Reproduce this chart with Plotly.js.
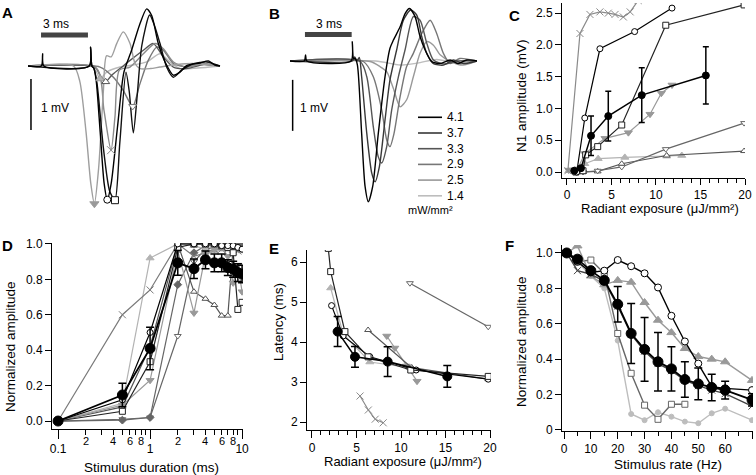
<!DOCTYPE html>
<html><head><meta charset="utf-8">
<script src="https://cdn.plot.ly/plotly-3.0.1.min.js"></script>
<style>html,body{margin:0;padding:0;background:#fff}#chart{width:756px;height:475px}</style>
</head><body><div id="chart"></div>
<script>
const FONT = 'Liberation Sans, Arial, Helvetica, sans-serif';

// ---------- Panel A : single-sweep traces (ms, mV) ----------
const aCircleT = [0, 0.85, 0.93, 1.01, 3.9, 3.99, 4.07, 4.2, 4.35, 4.6, 4.85, 5.05, 5.3, 5.7, 6.11, 6.6, 7.1, 7.56, 7.88, 8.3, 8.73, 9.26, 9.68, 10.1, 10.96, 11.49, 11.9, 12.23];
const aCircleV = [0, 0, 0.24, 0, 0, 0.37, 0, -0.05, -0.3, -1.3, -2.3, -2.62, -2.3, -1.2, -0.12, 0.31, 0.8, 1.12, 0.99, 0.44, 0.08, -0.18, -0.12, 0.01, 0.06, 0.1, 0.02, 0];
const aSquareT = [0, 3.9, 3.99, 4.07, 4.2, 4.4, 4.8, 5.2, 5.54, 5.85, 6.24, 6.45, 6.71, 6.95, 7.25, 7.75, 8.05, 8.41, 8.83, 9.26, 9.79, 10.5, 11.4, 12.23];
const aSquareV = [0, 0, 0.37, 0, -0.05, -0.35, -1.6, -2.45, -2.63, -1.5, -0.12, -0.5, -1.31, -0.6, 0.4, 1.0, 0.8, 0.44, -0.02, -0.22, -0.08, 0.04, 0.08, 0];
const aTriDownT = [0, 2.9, 3.3, 3.7, 4.0, 4.23, 4.5, 4.8, 5.0, 5.3, 5.65, 6.07, 6.5, 6.82, 7.13, 7.8, 8.4, 9.5, 10.5, 12.23];
const aTriDownV = [0, 0, -0.3, -1.3, -2.3, -2.7, -2.0, -0.5, 0.2, 0.18, 0.44, 0.67, 0.44, 0.05, -0.05, -0.05, -0.02, 0.03, 0.05, 0];
const aCrossT = [0, 4.37, 4.84, 5.29, 5.54, 5.82, 6.5, 7.35, 8.09, 8.62, 9.26, 10.1, 11.2, 12.23];
const aCrossV = [0, -0.05, -0.87, -1.65, -1.0, -0.08, -0.02, 0.24, 0.44, 0.34, 0.08, -0.02, 0.05, 0];
const aTriUpOpenT = [0, 4.27, 4.59, 4.95, 5.33, 5.86, 6.5, 7.35, 7.98, 8.62, 9.26, 10.1, 11.2, 12.23];
const aTriUpOpenV = [0, -0.02, -0.18, -0.31, -0.18, -0.05, 0.11, 0.31, 0.44, 0.18, -0.02, -0.05, 0.03, 0];
const aTriDownOpenT = [0, 4.59, 5.44, 6.07, 6.67, 7.13, 7.66, 8.2, 8.62, 9.26, 10.1, 11.0, 12.23];
const aTriDownOpenV = [0, -0.02, -0.22, -0.48, -0.79, -0.35, 0.11, 0.37, 0.31, 0.05, -0.02, 0.04, 0];
const aTriUpT = [0, 4.16, 4.59, 5.01, 5.86, 6.7, 7.56, 8.41, 9.04, 9.68, 10.8, 12.23];
const aTriUpV = [0, -0.02, -0.25, -0.12, -0.02, 0.02, 0.08, 0.24, 0.08, -0.05, -0.04, 0];

// ---------- Panel B : traces per irradiance ----------
const bLevels = ['4.1', '3.7', '3.3', '2.9', '2.5', '1.4'];
const b41T = [0, 0.92, 1.0, 1.08, 3.92, 4.0, 4.08, 4.18, 4.33, 4.6, 4.82, 5.03, 5.31, 5.67, 6.1, 6.42, 6.64, 7.07, 7.39, 7.67, 8.03, 8.35, 8.67, 9.1, 9.64, 10.28, 10.81, 11.35, 12.0];
const b41V = [0, 0, 0.12, 0, 0, 0.38, 0.05, 0.05, -0.08, -1.42, -2.46, -2.76, -2.46, -1.42, -0.31, 0.25, 0.41, 0.67, 0.93, 1.03, 0.87, 0.48, 0.22, -0.01, -0.05, 0.02, -0.05, 0.02, 0];
const b37T = [0, 4.0, 4.15, 4.3, 4.45, 4.6, 4.93, 5.25, 5.46, 5.74, 6.1, 6.42, 6.85, 7.28, 7.75, 8.14, 8.46, 8.78, 9.21, 9.85, 10.49, 11.13, 12.0];
const b37V = [0, 0, 0.08, 0.0, 0.07, -0.31, -1.42, -2.2, -2.37, -2.07, -1.16, -0.37, 0.22, 0.8, 1.0, 0.9, 0.48, 0.15, -0.05, -0.08, 0.02, -0.05, 0];
const b33T = [0, 4.5, 4.93, 5.35, 5.67, 5.89, 6.21, 6.53, 6.96, 7.39, 7.92, 8.35, 8.78, 9.21, 9.9, 10.7, 12.0];
const b33V = [0, -0.01, -0.31, -1.29, -1.88, -2.0, -1.68, -0.96, -0.31, 0.22, 0.87, 0.8, 0.35, 0.02, -0.06, 0.0, 0];
const b29T = [0, 4.71, 5.35, 5.89, 6.21, 6.42, 6.68, 7.07, 7.49, 7.92, 8.46, 9.0, 9.42, 9.85, 10.28, 10.9, 12.0];
const b29V = [0, -0.01, -0.31, -0.96, -1.55, -1.68, -1.42, -0.7, -0.11, 0.15, 0.54, 0.8, 0.54, 0.15, -0.05, 0.05, 0];
const b25T = [0, 5.14, 5.78, 6.21, 6.64, 7.07, 7.49, 7.92, 8.35, 8.78, 9.21, 9.64, 10.3, 11.1, 12.0];
const b25V = [0, -0.01, -0.11, -0.21, -0.54, -0.9, -0.76, -0.31, 0.15, 0.38, 0.31, 0.12, -0.01, -0.08, 0];
const b14T = [0, 5.5, 7.07, 8.2, 9.42, 10.7, 12.0];
const b14V = [0, 0, -0.08, -0.04, 0.03, -0.04, 0];

// ---------- Panel C : N1 amplitude vs radiant exposure ----------
const cCrossX = [0.1, 1.46, 2.58, 3.7, 4.64, 5.4, 6.33, 7.1, 8.0];
const cCrossY = [0.02, 2.18, 2.48, 2.52, 2.5, 2.48, 2.44, 2.52, 2.7];
const cCircleX = [1.1, 2.0, 3.7, 7.6, 11.8];
const cCircleY = [0.0, 0.85, 1.94, 2.21, 2.58];
const cSquareX = [1.0, 1.8, 2.1, 3.45, 6.15, 11.1, 19.9];
const cSquareY = [0.0, 0.02, 0.27, 0.40, 0.74, 2.31, 2.63];
const cTriDownX = [0.2, 1.2, 2.0, 4.27, 6.9, 9.33, 10.6, 11.8];
const cTriDownY = [0.03, 0.05, 0.29, 0.53, 0.62, 0.91, 1.24, 1.37];
const cTriUpX = [0.2, 1.3, 2.0, 3.5, 6.5, 11.2, 12.9];
const cTriUpY = [0.02, 0.05, 0.13, 0.21, 0.23, 0.25, 0.26];
const cTriUpOpenX = [1.2, 1.8, 3.45, 6.15, 11.2, 19.9];
const cTriUpOpenY = [0.0, 0.0, 0.01, 0.13, 0.26, 0.33];
const cTriDownOpenX = [1.2, 1.8, 3.45, 6.15, 11.1, 19.9];
const cTriDownOpenY = [0.0, 0.0, 0.02, 0.08, 0.36, 0.77];
const cMeanX = [0.82, 1.57, 2.7, 4.64, 8.4, 15.6];
const cMeanY = [0.02, 0.06, 0.57, 0.88, 1.21, 1.52];
const cMeanErr = [0, 0, 0.31, 0.39, 0.43, 0.45];

// ---------- Panel D : normalized amplitude vs stimulus duration ----------
const dX = [0.1, 0.5, 1, 2, 3, 4, 5, 6, 7, 8, 9, 10];
const dMean = [0, 0.147, 0.41, 0.893, 0.86, 0.91, 0.893, 0.893, 0.866, 0.857, 0.838, 0.83];
const dMeanErr = [0, 0.066, 0.12, 0.07, 0.055, 0.05, 0.05, 0.05, 0.045, 0.045, 0.05, 0.05];
const dCircle = [0, 0.12, 0.50, 1.0, 1.0, 1.0, 1.0, 0.99, 0.99, 0.99, 0.98, 0.97];
const dSquare = [0, 0.055, 0.335, 0.98, 1.0, 1.0, 1.0, 0.99, 0.98, 0.95, 0.63, 0.67];
const dCross = [0, 0.60, 0.74, 1.0, 0.93, 0.95, 0.97, 0.97, 0.97, 0.96, 0.96, 0.97];
const dTriUpOpen = [0, 0.08, 0.42, 1.0, 0.73, 0.69, 0.655, 0.595, 0.595, 0.98, 0.98, 0.97];
const dTriUp = [0, 0.10, 0.92, 1.0, 0.99, 0.97, 0.96, 0.97, 0.97, 0.96, 0.97, 0.96];
const dTriDown = [0, 0.09, 0.23, 0.96, 0.61, 0.94, 0.97, 0.98, 0.93, 0.78, 0.88, 0.73];
const dTriDownOpen = [0, 0.01, 0.02, 0.48, 0.90, 0.97, 0.98, 0.99, 0.99, 0.99, 0.99, 0.98];
const dDiamond = [0, 0.005, 0.02, 0.77, 0.95, 0.99, 0.99, 1.0, 1.0, 1.0, 1.0, 1.0];
const dMajorTicks = [0.1, 1, 10];
const dMajorLabels = ['0.1', '1', '10'];
const dMinorLabelVals = [0.2, 0.4, 0.6, 0.8, 2, 4, 6, 8];
const dMinorLabels = ['2', '4', '6', '8', '2', '4', '6', '8'];
const dMinorTickVals = [0.2, 0.3, 0.4, 0.5, 0.6, 0.7, 0.8, 0.9, 2, 3, 4, 5, 6, 7, 8, 9];

// ---------- Panel E : latency vs radiant exposure ----------
const eSquareX = [1.83, 2.1, 3.7, 6.3, 11.1, 19.8];
const eSquareY = [6.34, 5.76, 4.26, 3.63, 3.3, 3.14];
const eCircleX = [2.2, 3.5, 6.5, 11.7, 19.8];
const eCircleY = [4.91, 4.15, 3.63, 3.3, 3.07];
const eTriUpX = [2.1, 3.5, 6.5, 11.2];
const eTriUpY = [5.35, 4.2, 3.5, 3.35];
const eTriUpOpenX = [6.3, 11.2, 19.8];
const eTriUpOpenY = [4.3, 3.36, 3.07];
const eTriDownX = [8.4, 9.3, 10.6, 11.8];
const eTriDownY = [4.15, 3.85, 3.4, 3.02];
const eTriDownOpenX = [11.0, 19.8];
const eTriDownOpenY = [5.47, 4.38];
const eCrossX = [5.4, 6.33, 7.1, 8.0];
const eCrossY = [2.65, 2.3, 2.07, 1.98];
const eMeanX = [2.88, 4.83, 8.5, 15.2];
const eMeanY = [4.26, 3.63, 3.51, 3.14];
const eMeanErr = [0.375, 0.26, 0.37, 0.27];

// ---------- Panel F : normalized amplitude vs stimulus rate ----------
const fX = [1, 5, 10, 15, 20, 25, 30, 35, 40, 45, 50, 55, 60, 70];
const fMean = [1.0, 0.965, 0.90, 0.845, 0.71, 0.545, 0.455, 0.385, 0.345, 0.285, 0.26, 0.24, 0.225, 0.17];
const fMeanErr = [0, 0, 0, 0, 0.1, 0.17, 0.18, 0.165, 0.125, 0.1, 0.09, 0.075, 0.05, 0.035];
const fCircle = [1.0, 0.95, 0.89, 0.90, 0.96, 0.925, 0.885, 0.805, 0.645, 0.50, 0.375, 0.245, 0.235, 0.225];
const fCross = [1.0, 0.90, 0.88, 0.84, 0.70, 0.54, 0.445, 0.375, 0.335, 0.28, 0.25, 0.225, 0.205, 0.135];
const fTriUp = [1.0, 1.04, 0.87, 0.82, 0.845, 0.835, 0.72, 0.62, 0.55, 0.46, 0.415, 0.40, 0.385, 0.28];
const fSquareX = [1, 5, 10, 15, 20, 25, 30, 35, 40, 45];
const fSquare = [1.0, 0.95, 0.96, 0.885, 0.545, 0.32, 0.14, 0.06, 0.145, 0.145];
const fLight = [1.0, 0.95, 0.87, 0.80, 0.505, 0.09, 0.055, 0.10, 0.075, 0.047, 0.038, 0.094, 0.12, 0.055];
const fYTicks = [0, 0.2, 0.4, 0.6, 0.8, 1.0];
const fYLabels = ['0', '0.2', '0.4', '0.6', '0.8', '1.0'];

// ---------- axis titles ----------
const titleC_y = 'N1 amplitude (mV)';
const titleC_x = 'Radiant exposure (μJ/mm²)';
const titleD_y = 'Normalized amplitude';
const titleD_x = 'Stimulus duration (ms)';
const titleE_y = 'Latency (ms)';
const titleE_x = 'Radiant exposure (μJ/mm²)';
const titleF_y = 'Normalized amplitude';
const titleF_x = 'Stimulus rate (Hz)';

// ---------- helpers ----------
const W = 756, H = 475;
const px = v => v / W;
const py = v => 1 - v / H;

const ST = {
  cross:   {color: '#8a8a8a', symbol: 'x-thin', fill: '#8a8a8a', size: 7},
  circle:  {color: '#000', symbol: 'circle', fill: '#fff', size: 6},
  square:  {color: '#222', symbol: 'square', fill: '#fff', size: 6},
  triDown: {color: '#999', symbol: 'triangle-down', fill: '#999', size: 7},
  triUp:   {color: '#b3b3b3', symbol: 'triangle-up', fill: '#b3b3b3', size: 7},
  triUpO:  {color: '#555', symbol: 'triangle-up', fill: '#fff', size: 6},
  triDownO:{color: '#666', symbol: 'triangle-down', fill: '#fff', size: 6},
  diamond: {color: '#666', symbol: 'diamond', fill: '#666', size: 6},
  light:   {color: '#bdbdbd', symbol: 'circle', fill: '#bdbdbd', size: 5},
  mean:    {color: '#000', symbol: 'circle', fill: '#000', size: 7}
};

function series(xa, ya, x, y, st, opt) {
  opt = opt || {};
  const tr = {
    type: 'scatter', mode: 'lines+markers', x: x, y: y, xaxis: xa, yaxis: ya,
    line: {color: opt.lineColor || st.color, width: opt.lw || 1.2},
    marker: {symbol: st.symbol, size: opt.size || st.size, color: opt.fill || st.fill,
             line: {color: st.color, width: opt.mlw || 1}},
    hoverinfo: 'skip', showlegend: false
  };
  if (opt.err) tr.error_y = {type: 'data', array: opt.err, color: '#000', thickness: 1.5, width: opt.capw || 3};
  return tr;
}

function wave(xa, ya, t, v, color, lw) {
  return {type: 'scatter', mode: 'lines', x: t, y: v, xaxis: xa, yaxis: ya,
    line: {color: color, width: lw || 1.4, shape: 'spline', smoothing: 0.7},
    hoverinfo: 'skip', showlegend: false};
}
function trough(xa, ya, t, v, st, size) {
  let k = 0; v.forEach((val, i) => { if (val < v[k]) k = i; });
  return {type: 'scatter', mode: 'markers', x: [t[k]], y: [v[k]], xaxis: xa, yaxis: ya,
    marker: {symbol: st.symbol, size: size || st.size + 1, color: st.fill, line: {color: st.color, width: 1}},
    hoverinfo: 'skip', showlegend: false, cliponaxis: false};
}

const traces = [];
// Panel A
const aSet = [
  [aTriUpT, aTriUpV, ST.triUp, '#bbbbbb'],
  [aTriDownOpenT, aTriDownOpenV, ST.triDownO, '#777777'],
  [aTriUpOpenT, aTriUpOpenV, ST.triUpO, '#555555'],
  [aCrossT, aCrossV, ST.cross, '#8a8a8a'],
  [aTriDownT, aTriDownV, ST.triDown, '#9e9e9e'],
  [aSquareT, aSquareV, ST.square, '#111111'],
  [aCircleT, aCircleV, ST.circle, '#000000']
];
aSet.forEach(s => traces.push(wave('x', 'y', s[0], s[1], s[3])));
aSet.forEach(s => traces.push(trough('x', 'y', s[0], s[1], Object.assign({}, s[2], {color: s[3] === '#bbbbbb' ? '#999' : s[3]}))));

// Panel B
const bSeries = [[b14T, b14V], [b25T, b25V], [b29T, b29V], [b33T, b33V], [b37T, b37V], [b41T, b41V]];
const bColors = ['#000000', '#383838', '#555555', '#777777', '#999999', '#bdbdbd'];
bSeries.forEach((s, i) => traces.push(wave('x2', 'y2', s[0], s[1], bColors[bColors.length - 1 - i])));

// Panel C
traces.push(series('x3', 'y3', cTriUpX, cTriUpY, ST.triUp));
traces.push(series('x3', 'y3', cTriUpOpenX, cTriUpOpenY, ST.triUpO));
traces.push(series('x3', 'y3', cTriDownOpenX, cTriDownOpenY, ST.triDownO));
traces.push(series('x3', 'y3', cTriDownX, cTriDownY, ST.triDown));
traces.push(series('x3', 'y3', cCrossX, cCrossY, ST.cross));
traces.push(series('x3', 'y3', cSquareX, cSquareY, ST.square));
traces.push(series('x3', 'y3', cCircleX, cCircleY, ST.circle));
traces.push(series('x3', 'y3', cMeanX, cMeanY, ST.mean, {err: cMeanErr, lw: 1.5, capw: 3}));

// Panel D
traces.push(series('x4', 'y4', dX, dTriDownOpen, ST.triDownO));
traces.push(series('x4', 'y4', dX, dDiamond, ST.diamond));
traces.push(series('x4', 'y4', dX, dTriUp, ST.triUp));
traces.push(series('x4', 'y4', dX, dCross, Object.assign({}, ST.cross, {color: '#7a7a7a'})));
traces.push(series('x4', 'y4', dX, dTriUpOpen, ST.triUpO));
traces.push(series('x4', 'y4', dX, dTriDown, ST.triDown));
traces.push(series('x4', 'y4', dX, dSquare, ST.square));
traces.push(series('x4', 'y4', dX, dCircle, ST.circle));
traces.push(series('x4', 'y4', dX, dMean, ST.mean, {err: dMeanErr, lw: 1.8, size: 10, capw: 4}));

// Panel E
traces.push(series('x5', 'y5', eTriUpX, eTriUpY, ST.triUp));
traces.push(series('x5', 'y5', eTriDownOpenX, eTriDownOpenY, ST.triDownO));
traces.push(series('x5', 'y5', eCrossX, eCrossY, ST.cross));
traces.push(series('x5', 'y5', eTriDownX, eTriDownY, ST.triDown));
traces.push(series('x5', 'y5', eTriUpOpenX, eTriUpOpenY, ST.triUpO));
traces.push(series('x5', 'y5', eCircleX, eCircleY, ST.circle));
traces.push(series('x5', 'y5', eSquareX, eSquareY, ST.square));
traces.push(series('x5', 'y5', eMeanX, eMeanY, ST.mean, {err: eMeanErr, lw: 1.5, size: 9, capw: 4}));

// Panel F
traces.push(series('x6', 'y6', fX, fLight, ST.light, {lw: 1.4}));
traces.push(series('x6', 'y6', fSquareX, fSquare, Object.assign({}, ST.square, {color: '#666'}), {lw: 1.4}));
traces.push(series('x6', 'y6', fX, fTriUp, {color: '#999', symbol: 'triangle-up', fill: '#999', size: 8}, {lw: 1.4}));
traces.push(series('x6', 'y6', fX, fCross, Object.assign({}, ST.cross, {color: '#444'}), {lw: 1.4}));
traces.push(series('x6', 'y6', fX, fCircle, ST.circle, {lw: 1.4, size: 7}));
traces.push(series('x6', 'y6', fX, fMean, ST.mean, {err: fMeanErr, lw: 1.8, size: 10, capw: 4}));

// ---------- axes ----------
function ax(extra) {
  return Object.assign({showgrid: false, zeroline: false, showline: true, linecolor: '#000', linewidth: 1,
    ticks: 'outside', tickcolor: '#000', tickwidth: 1, ticklen: 6,
    tickfont: {family: FONT, size: 12, color: '#000'}, fixedrange: true}, extra);
}
// trace-only axes for the two waveform panels: nothing drawn
const hidden = {showline: false, showgrid: false, zeroline: false, showticklabels: false, ticks: '', fixedrange: true};

const layout = {
  width: W, height: H, margin: {l: 0, r: 0, t: 0, b: 0},
  paper_bgcolor: '#fff', plot_bgcolor: 'rgba(0,0,0,0)', showlegend: false,
  font: {family: FONT, size: 12, color: '#000'},
  xaxis:  Object.assign({}, hidden, {domain: [px(28), px(225)], range: [0, 12.55], anchor: 'y'}),
  yaxis:  Object.assign({}, hidden, {domain: [py(215), py(0)], range: [-2.92, 1.294], anchor: 'x'}),
  xaxis2: Object.assign({}, hidden, {domain: [px(290), px(480)], range: [0, 12.2], anchor: 'y2'}),
  yaxis2: Object.assign({}, hidden, {domain: [py(215), py(0)], range: [-3.02, 1.196], anchor: 'x2'}),
  xaxis3: ax({domain: [px(562), px(745)], range: [-0.56, 20], anchor: 'y3', tickmode: 'linear', tick0: 0, dtick: 5, ticklen: 6,
    minor: {tickmode: 'linear', tick0: 0, dtick: 1, ticklen: 4, ticks: 'outside', tickcolor: '#000', tickwidth: 1}}),
  yaxis3: ax({domain: [py(178), py(3)], range: [-0.094, 2.66], anchor: 'x3', tickmode: 'linear', tick0: 0, dtick: 0.5, tickformat: '.1f'}),
  xaxis4: ax({type: 'log', domain: [px(52), px(243)], range: [-1.066, 1.01], anchor: 'y4', tickmode: 'array',
    tickvals: dMajorTicks, ticktext: dMajorLabels, ticklen: 9,
    minor: {tickmode: 'array', tickvals: dMinorTickVals, ticklen: 5, ticks: 'outside', tickcolor: '#000', tickwidth: 1}}),
  yaxis4: ax({domain: [py(429), py(243)], range: [-0.045, 1.005], anchor: 'x4', tickmode: 'linear', tick0: 0, dtick: 0.2, tickformat: '.1f'}),
  xaxis5: ax({domain: [px(307), px(491)], range: [-0.56, 20.11], anchor: 'y5', tickmode: 'linear', tick0: 0, dtick: 5, ticklen: 7,
    minor: {tickmode: 'linear', tick0: 0, dtick: 1, ticklen: 4, ticks: 'outside', tickcolor: '#000', tickwidth: 1}}),
  yaxis5: ax({domain: [py(430), py(250)], range: [1.8, 6.3], anchor: 'x5', tickmode: 'linear', tick0: 2, dtick: 1}),
  xaxis6: ax({domain: [px(562), px(753)], range: [-0.745, 70.37], anchor: 'y6', tickmode: 'linear', tick0: 0, dtick: 10, ticklen: 7,
    minor: {tickmode: 'linear', tick0: 0, dtick: 5, ticklen: 4, ticks: 'outside', tickcolor: '#000', tickwidth: 1}}),
  yaxis6: ax({domain: [py(431), py(245)], range: [-0.006, 1.045], anchor: 'x6', tickmode: 'array',
    tickvals: fYTicks, ticktext: fYLabels}),
  shapes: [], annotations: []
};

function note(text, x, y, opt) {
  opt = opt || {};
  layout.annotations.push(Object.assign({text: text, xref: 'paper', yref: 'paper', x: px(x), y: py(y),
    xanchor: 'center', yanchor: 'middle', showarrow: false,
    font: {family: FONT, size: opt.size || 13.5, color: '#000'}}, opt.extra || {}));
}

// axis titles placed where the reference shows them
note(titleC_y, 521, 96, {extra: {textangle: -90}});
note(titleC_x, 660, 208.5, {size: 13});
note(titleD_y, 10, 347, {extra: {textangle: -90}});
note(titleD_x, 151, 467);
note(titleE_y, 278, 322, {extra: {textangle: -90}});
note(titleE_x, 403, 461.5, {size: 13});
note(titleF_y, 521, 342, {extra: {textangle: -90}});
note(titleF_x, 668, 464);

// panel letters
[['A', 0, 2], ['B', 267, 3], ['C', 507, 5], ['D', 0, 235], ['E', 267, 238], ['F', 503, 235]].forEach(p => {
  note('<b>' + p[0] + '</b>', p[1], p[2], {size: 15, extra: {xanchor: 'left', yanchor: 'top'}});
});

// scale bars (A and B)
function scaleBars(xa, ya, hx0, hx1, hy, vx, vy0, vy1, tx, ty, mx, my) {
  layout.shapes.push({type: 'line', xref: xa, yref: ya, x0: hx0, x1: hx1, y0: hy, y1: hy, line: {color: '#444', width: 5}});
  layout.shapes.push({type: 'line', xref: xa, yref: ya, x0: vx, x1: vx, y0: vy0, y1: vy1, line: {color: '#000', width: 1.5}});
  note('3 ms', tx, ty, {size: 12});
  note('1 mV', mx, my, {size: 12, extra: {xanchor: 'left'}});
}
scaleBars('x', 'y', 0.83, 3.82, 0.61, 0.19, -0.255, -1.255, 56, 24, 39, 108);
scaleBars('x2', 'y2', 0.96, 3.96, 0.52, 0.17, -0.37, -1.37, 329, 24, 298, 108);

// legend of panel B
bLevels.forEach((lab, i) => {
  const yy = 117.3 + i * 15.7;
  layout.shapes.push({type: 'line', xref: 'paper', yref: 'paper', x0: px(418), x1: px(442), y0: py(yy), y1: py(yy),
    line: {color: bColors[i], width: 1.6}});
  note(lab, 445, yy, {size: 12, extra: {xanchor: 'left'}});
});
note('mW/mm²', 430, 210, {size: 11});

// minor tick labels of the log axis in panel D
dMinorLabelVals.forEach((v, i) => {
  layout.annotations.push({text: dMinorLabels[i], xref: 'x4', yref: 'paper', x: Math.log10(v), y: py(441),
    xanchor: 'center', yanchor: 'middle', showarrow: false, font: {family: FONT, size: 11, color: '#000'}});
});

Plotly.newPlot('chart', traces, layout, {displayModeBar: false, staticPlot: true});
</script></body></html>
